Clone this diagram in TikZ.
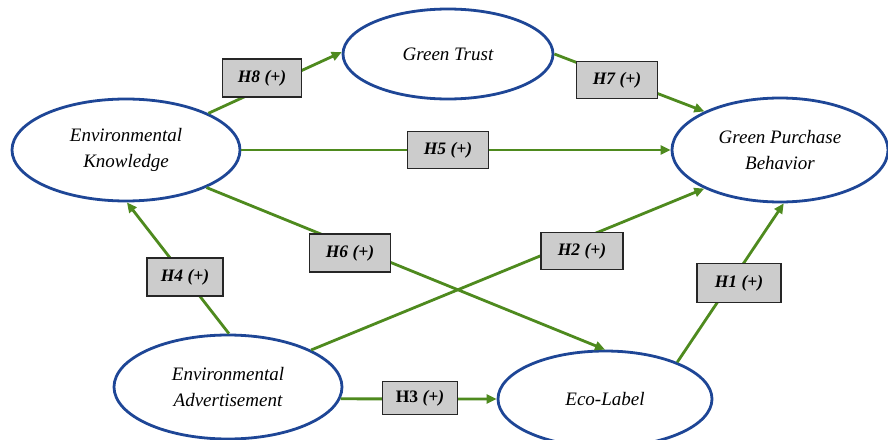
\documentclass[tikz,border=0pt]{standalone}
\usepackage{fontspec}
\setmainfont{Liberation Serif}
\usetikzlibrary{arrows.meta,shapes.geometric}
\definecolor{ellblue}{RGB}{30,70,150}
\definecolor{lgreen}{RGB}{78,138,30}
\definecolor{boxgray}{RGB}{204,204,204}
\begin{document}
\begin{tikzpicture}[x=1pt,y=-1pt,
  var/.style={ellipse, draw=ellblue, fill=white, line width=2.8pt, inner sep=0pt,
    font=\fontsize{19}{26}\selectfont\itshape, align=center},
  hyp/.style={draw=black!85, fill=boxgray, line width=1.4pt, inner sep=0pt,
    font=\fontsize{17.5}{20}\selectfont\bfseries\itshape},
  link/.style={draw=lgreen, line width=2.8pt, -{Triangle[length=10pt,width=9pt]}}]
\fill[white] (0,0) rectangle (888,439);
\clip (0,0) rectangle (888,439);
% variables
\node[var, minimum width=228pt, minimum height=102pt] (EK) at (126,150) {Environmental\\Knowledge};
\node[var, minimum width=210pt, minimum height=90pt] (GT) at (448,54) {Green Trust};
\node[var, minimum width=216pt, minimum height=104pt] (GPB) at (780,150) {Green Purchase\\Behavior};
\node[var, minimum width=228pt, minimum height=104pt] (EA) at (228,387) {Environmental\\Advertisement};
\node[var, minimum width=214pt, minimum height=96pt] (EL) at (605,399) {Eco-Label};
% connectors
\draw[link] (EK.24) -- (GT.179);
\draw[link] (GT.east) -- (GPB.153);
\draw[link] (EK.east) -- (GPB.west);
\draw[link] (EK.-25) -- (EL.north);
\draw[link] (EA.24) -- (GPB.207);
\draw[link] (EL.27) -- (GPB.-86);
\draw[link] (EA.89) -- (EK.-89);
\draw[link] (EA.-6) -- (EL.west);
% hypothesis labels
\node[hyp, minimum width=79pt, minimum height=38pt] (H8) at (262,78) {H8 (+)};
\node[hyp, minimum width=81pt, minimum height=37pt] (H7) at (617,80) {H7 (+)};
\node[hyp, minimum width=81pt, minimum height=37pt] (H5) at (448,150) {H5 (+)};
\node[hyp, minimum width=81pt, minimum height=38pt] (H6) at (350,253) {H6 (+)};
\node[hyp, minimum width=82pt, minimum height=37pt] (H2) at (582,251) {H2 (+)};
\node[hyp, minimum width=76pt, minimum height=38pt] (H4) at (185,277) {H4 (+)};
\node[hyp, minimum width=84pt, minimum height=39pt] (H1) at (739,283) {H1 (+)};
\node[hyp, minimum width=75pt, minimum height=33pt] (H3) at (420,398) {\upshape H3 \itshape(+)};
\end{tikzpicture}
\end{document}
